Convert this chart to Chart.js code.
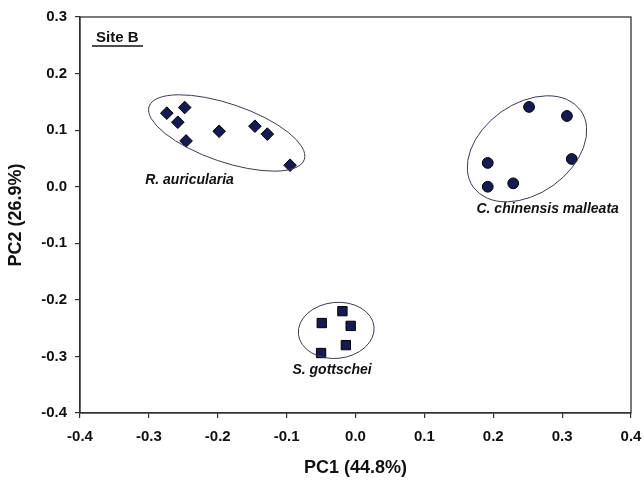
<!DOCTYPE html>
<html><head><meta charset="utf-8">
<script src="https://cdn.jsdelivr.net/npm/chart.js@4/dist/chart.umd.min.js"></script>
<style>html,body{margin:0;padding:0;background:#fff}#wrap{width:644px;height:480px}</style>
</head><body><div id="wrap"><canvas id="c" width="644" height="480"></canvas></div>
<script>
const xTicks = [-0.4,-0.3,-0.2,-0.1,0.0,0.1,0.2,0.3,0.4];
const yTicks = [-0.4,-0.3,-0.2,-0.1,0.0,0.1,0.2,0.3];
const rAuricularia = [[-0.274,0.130],[-0.248,0.140],[-0.258,0.114],[-0.246,0.081],[-0.198,0.098],[-0.146,0.107],[-0.128,0.093],[-0.095,0.038]];
const cChinensis = [[0.252,0.141],[0.307,0.125],[0.314,0.049],[0.192,0.042],[0.192,0.000],[0.229,0.006]];
const sGottschei = [[-0.019,-0.220],[-0.049,-0.241],[-0.007,-0.246],[-0.014,-0.280],[-0.050,-0.294]];
const groupNames = ['R. auricularia','C. chinensis malleata','S. gottschei'];
const xTitle = 'PC1 (44.8%)';
const yTitle = 'PC2 (26.9%)';
const panelLabel = 'Site B';
// ellipse centres and label anchors (data units)
const ellipseCentres = [[-0.187,0.095],[0.249,0.067],[-0.028,-0.254]];
const labelPos = [[-0.241,0.012],[0.279,-0.039],[-0.034,-0.324]];

const toPts = a => a.map(p => ({x:p[0], y:p[1]}));
const navy = '#161a52';
const FONT = '"Liberation Sans", Arial, sans-serif';

const ellipseShapes = [{rx:82,ry:29,rot:0.33},{rx:66,ry:45,rot:-0.62},{rx:38,ry:28,rot:-0.1}];

const overlay = {
  id:'overlay',
  afterDatasetsDraw(chart){
    const {ctx, chartArea:a, scales:{x,y}} = chart;
    ctx.save();
    ctx.strokeStyle='#333'; ctx.lineWidth=1.3;
    ctx.strokeRect(a.left, a.top, a.right-a.left, a.bottom-a.top);
    ctx.strokeStyle='#3a3a55'; ctx.lineWidth=1;
    ellipseCentres.forEach((c,i)=>{
      const s=ellipseShapes[i];
      ctx.beginPath();
      ctx.ellipse(x.getPixelForValue(c[0]), y.getPixelForValue(c[1]), s.rx, s.ry, s.rot, 0, Math.PI*2);
      ctx.stroke();
    });
    ctx.fillStyle='#111';
    ctx.font='italic bold 14px '+FONT;
    ctx.textAlign='center'; ctx.textBaseline='middle';
    groupNames.forEach((n,i)=>{
      ctx.fillText(n, x.getPixelForValue(labelPos[i][0]), y.getPixelForValue(labelPos[i][1]));
    });
    ctx.font='bold 15px '+FONT;
    ctx.textAlign='left';
    ctx.fillText(panelLabel, 96, 38);
    ctx.beginPath(); ctx.lineWidth=1.6; ctx.strokeStyle='#111';
    ctx.moveTo(92,46); ctx.lineTo(143,46); ctx.stroke();
    ctx.font='bold 18px '+FONT;
    ctx.textAlign='center';
    ctx.fillText(xTitle, (a.left+a.right)/2, 468);
    ctx.translate(16, (a.top+a.bottom)/2);
    ctx.rotate(-Math.PI/2);
    ctx.fillText(yTitle, 0, 0);
    ctx.restore();
  }
};

new Chart(document.getElementById('c'), {
  type:'scatter',
  data:{datasets:[
    {label:groupNames[0], data:toPts(rAuricularia), pointStyle:'rectRot', pointRadius:6.3, backgroundColor:navy, borderColor:'#000', borderWidth:1},
    {label:groupNames[1], data:toPts(cChinensis), pointStyle:'circle', pointRadius:5.4, backgroundColor:navy, borderColor:'#000', borderWidth:1},
    {label:groupNames[2], data:toPts(sGottschei), pointStyle:'rect', pointRadius:6.6, backgroundColor:navy, borderColor:'#000', borderWidth:1}
  ]},
  options:{
    responsive:false, animation:false,
    layout:{padding:{left:0,top:17,right:13,bottom:0}},
    plugins:{legend:{display:false}, tooltip:{enabled:false}},
    scales:{
      x:{type:'linear', min:-0.4, max:0.4,
        afterBuildTicks(s){ s.ticks = xTicks.map(v=>({value:v})); },
        afterFit(s){ s.height=67; s.paddingLeft=0; s.paddingRight=0; },
        grid:{display:true, drawOnChartArea:false, drawTicks:true, tickLength:5, color:'#333', lineWidth:1.2},
        border:{display:true,color:'#333',width:1.3},
        ticks:{color:'#111', padding:10, maxRotation:0, font:{family:FONT, size:15, weight:'bold'},
          callback:v=>v.toFixed(1)},
        title:{display:false}
      },
      y:{type:'linear', min:-0.4, max:0.3,
        afterBuildTicks(s){ s.ticks = yTicks.map(v=>({value:v})); },
        afterFit(s){ s.width=80; s.paddingTop=0; s.paddingBottom=0; },
        grid:{display:true, drawOnChartArea:false, drawTicks:true, tickLength:5, color:'#333', lineWidth:1.2},
        border:{display:true,color:'#333',width:1.3},
        ticks:{color:'#111', padding:8, font:{family:FONT, size:15, weight:'bold'},
          callback:v=>v.toFixed(1)},
        title:{display:false}
      }
    }
  },
  plugins:[overlay]
});
</script></body></html>
